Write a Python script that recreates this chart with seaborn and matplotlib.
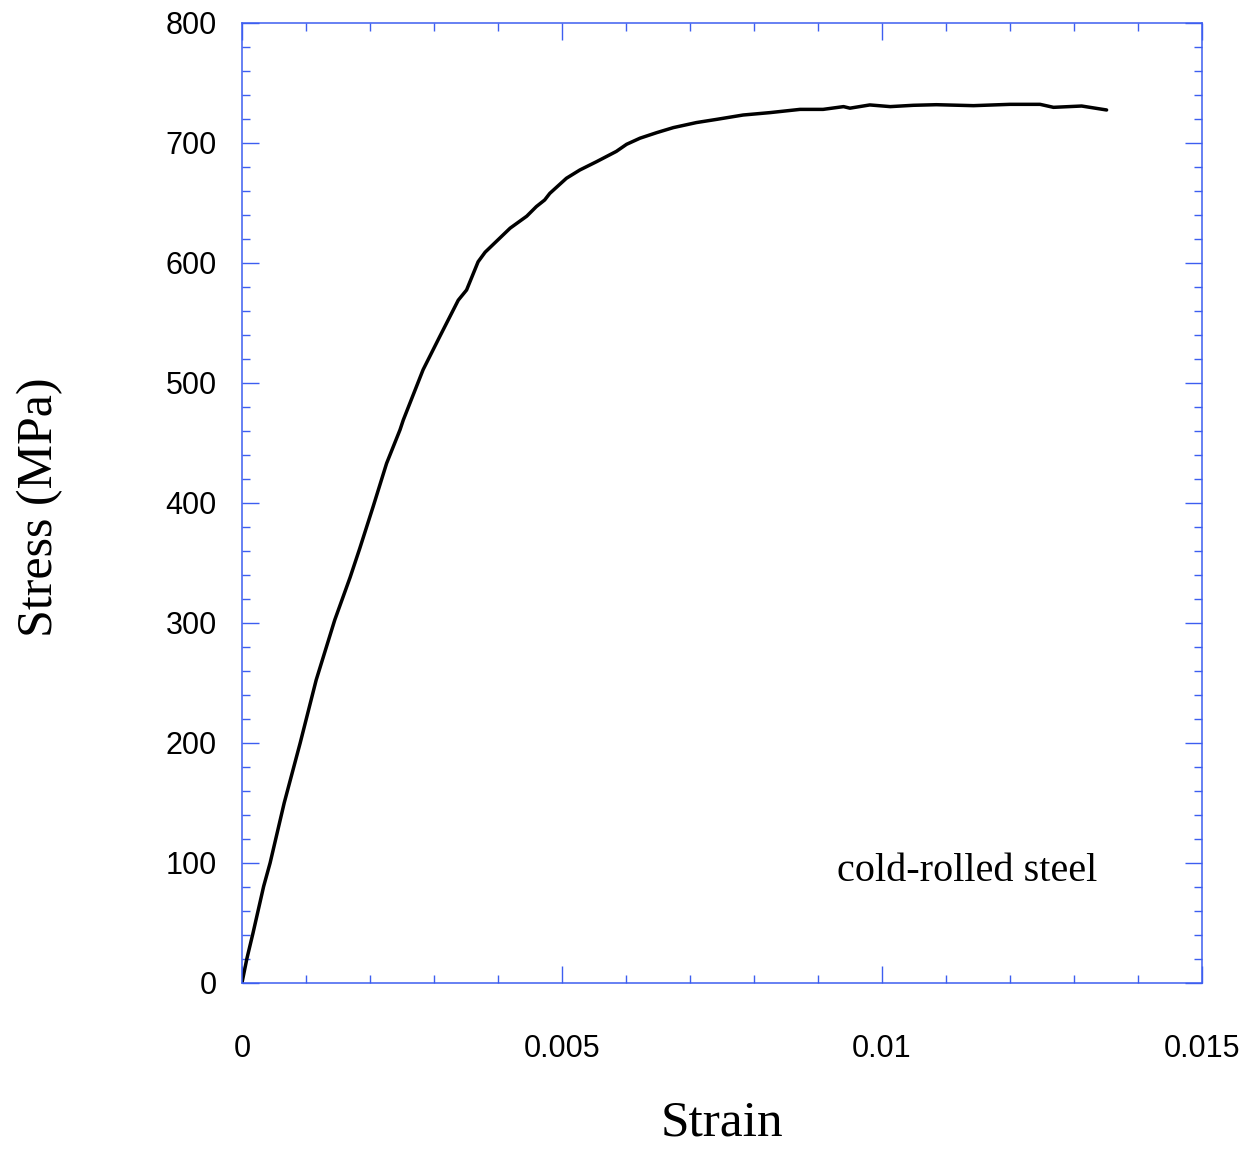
import numpy as np
import pandas as pd
import matplotlib
matplotlib.use("Agg")
import matplotlib.pyplot as plt
from matplotlib.ticker import MultipleLocator, FixedLocator, FixedFormatter
import seaborn as sns

# Tensile test of cold-rolled steel: engineering strain vs stress (MPa)
strain = [0.0, 0.000078, 0.000172, 0.000339, 0.00044, 0.00066, 0.00091,
          0.00116, 0.00145, 0.00169, 0.00184,
          0.00205, 0.00226, 0.00247, 0.00252, 0.00283, 0.00309, 0.00338,
          0.00351, 0.00369, 0.0038, 0.00419, 0.00445, 0.0046, 0.00473,
          0.00481, 0.00507, 0.00528, 0.00554, 0.00585, 0.00601, 0.00622,
          0.00648, 0.00674, 0.0071, 0.00742, 0.00783, 0.00825, 0.00872,
          0.00908, 0.0094, 0.0095, 0.00981, 0.01013, 0.01049, 0.01085,
          0.01143, 0.012, 0.01247, 0.01268, 0.01312, 0.01351]
stress = [0.0, 20.5, 41.4, 80.5, 100.0, 150.0, 200.0,
          252.5, 302.5, 338.0, 362.0,
          397.0, 433.0, 461.0, 469.0, 511.0, 538.6, 569.0,
          577.5, 601.0, 609.0, 629.0, 639.0, 647.0, 652.5,
          658.0, 670.6, 677.5, 684.4, 693.0, 698.9, 704.0,
          708.6, 712.8, 717.0, 719.7, 723.3, 725.3, 728.0,
          728.0, 730.3, 729.0, 731.7, 730.3, 731.4, 731.9,
          731.1, 732.2, 732.2, 729.7, 730.8, 727.5]

x_ticks = [0.0, 0.005, 0.01, 0.015]
x_tick_labels = ["0", "0.005", "0.01", "0.015"]
y_ticks = [0, 100, 200, 300, 400, 500, 600, 700, 800]
y_tick_labels = [str(v) for v in y_ticks]

df = pd.DataFrame({"Strain": strain, "Stress": stress})

sns.set_theme(style="white")
plt.rcParams["font.family"] = ["Liberation Sans", "DejaVu Sans"]

frame_blue = "#3d5ef0"
serif = ["Liberation Serif", "DejaVu Serif"]

fig = plt.figure(figsize=(12.51, 11.49), dpi=100)
ax = fig.add_axes([0.1934, 0.1445, 0.7674, 0.8355])

sns.lineplot(data=df, x="Strain", y="Stress", sort=False, color="black",
             linewidth=2.5, ax=ax)

ax.set_xlim(0, 0.015)
ax.set_ylim(0, 800)

ax.xaxis.set_major_locator(FixedLocator(x_ticks))
ax.xaxis.set_major_formatter(FixedFormatter(x_tick_labels))
ax.xaxis.set_minor_locator(MultipleLocator(0.001))
ax.yaxis.set_major_locator(FixedLocator(y_ticks))
ax.yaxis.set_major_formatter(FixedFormatter(y_tick_labels))
ax.yaxis.set_minor_locator(MultipleLocator(20))

for side in ["left", "right", "top", "bottom"]:
    ax.spines[side].set_visible(True)
    ax.spines[side].set_color(frame_blue)
    ax.spines[side].set_linewidth(1.1)

ax.tick_params(which="both", direction="in", top=True, right=True,
               bottom=True, left=True, color=frame_blue, width=1.0)
ax.tick_params(which="major", length=12)
ax.tick_params(which="minor", length=6)
ax.tick_params(axis="x", which="major", pad=37, labelsize=22, labelcolor="black")
ax.tick_params(axis="y", which="major", pad=18, labelsize=22, labelcolor="black")

ax.set_xlabel("Strain", fontsize=37, family=serif, va="center", color="black")
ax.xaxis.set_label_coords(0.5, -0.146)
ax.set_ylabel("Stress (MPa)", fontsize=36, family=serif, va="center",
              color="black")
ax.yaxis.set_label_coords(-0.21, 0.496)

ax.text(0.01336, 93, "cold-rolled steel", fontsize=29, family=serif,
        ha="right", va="center", color="black")

ax.grid(False)
fig.savefig("out.png", dpi=100, facecolor="white")
